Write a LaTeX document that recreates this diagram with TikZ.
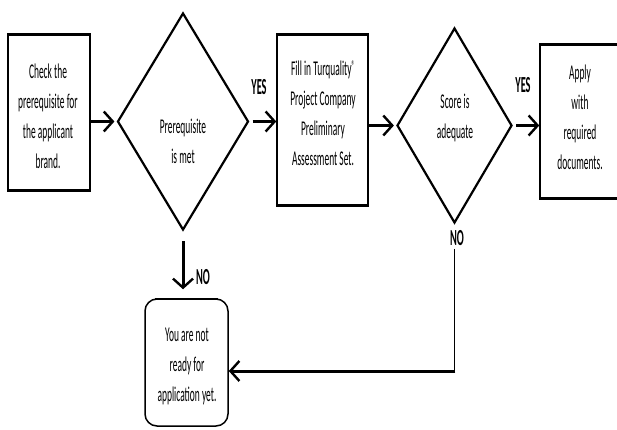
\documentclass[tikz,border=0pt]{standalone}
\usepackage{fontspec}
\setmainfont{Carlito}[FakeStretch=0.45]
\usetikzlibrary{arrows.meta,shapes.geometric}
\begin{document}
\begin{tikzpicture}[x=1pt,y=-1pt,
  txt/.style={align=center,font=\fontsize{21}{30}\selectfont,inner sep=0pt},
  lbl/.style={font=\fontsize{23}{24}\selectfont\bfseries,inner sep=0pt},
  box/.style={draw,line width=1.5pt,inner sep=0pt},
  edgeline/.style={line width=3.4pt},
  dia/.style={draw,diamond,line width=2.2pt,inner sep=0pt},
  arr/.style={line width=3pt,-{Straight Barb[length=9pt,width=20pt,line width=2.4pt]}}]
\useasboundingbox (0,0) rectangle (617,430);
\fill[white] (0,0) rectangle (617,430);

% boxes
\node[box,minimum width=82pt,minimum height=155pt] (b1) at (49,112.5) {};
\node[box,minimum width=91pt,minimum height=170pt] (b2) at (322.5,120) {};
\node[box,minimum width=80pt,minimum height=153pt] (b3) at (580,121.5) {};
\node[box,rounded corners=12pt,minimum width=83pt,minimum height=127pt] (b4) at (186.5,362.5) {};
\draw[edgeline] (b1.north west) -- (b1.north east) (b1.south west) -- (b1.south east);
\draw[edgeline] (b2.north west) -- (b2.north east) (b2.south west) -- (b2.south east);
\draw[edgeline] (b3.north west) -- (b3.north east) (b3.south west) -- (b3.south east);
\draw[line width=2.4pt] ([xshift=11pt,yshift=-0.5pt]b4.north west) -- ([xshift=-11pt,yshift=-0.5pt]b4.north east);

% diamonds
\node[dia,minimum width=131pt,minimum height=217pt] (d1) at (183,121.5) {};
\node[dia,minimum width=115pt,minimum height=195pt] (d2) at (454.5,125.5) {};

% texts
\node[txt] (t1) at (48,116) {Check the\\prerequisite for\\the applicant\\brand.};
\node[txt] (t2) at (183,141) {Prerequisite\\is met};
\node[txt] (t3) at (323,113) {Fill in Turquality\raisebox{5pt}{\fontsize{14}{14}\selectfont ®}\\Project Company\\Preliminary\\Assessment Set.};
\node[txt] (t4) at (455,118) {Score is\\adequate};
\node[txt] (t5) at (580,117) {Apply\\with\\required\\documents.};
\node[txt] (t6) at (187,366) {You are not\\ready for\\application yet.};

% labels
\node[lbl] (yes1) at (259,87) {YES};
\node[lbl] (yes2) at (523,85) {YES};
\node[lbl] (no1) at (203,277) {NO};
\node[lbl] (no2) at (457,238) {NO};

% connectors
\draw[arr,shorten >=2pt] (b1.east |- d1.west) -- (d1.west);
\draw[arr,shorten <=3pt] (d1.east) -- (b2.west |- d1.east);
\draw[arr,shorten >=2pt] (b2.east |- d2.west) -- (d2.west);
\draw[arr,shorten <=3pt] (d2.east) -- (b3.west |- d2.east);
\draw[arr,shorten <=10pt,shorten >=9pt] (d1.south) -- (d1.south |- b4.north);
\draw[line width=1.8pt] (no2.south -| d2.south) ++(0,3) coordinate (n2a) -- (n2a |- 0,371) coordinate (n2b);
\draw[arr] ([xshift=0.9pt]n2b) -- (b4.east |- n2b);
\end{tikzpicture}
\end{document}
